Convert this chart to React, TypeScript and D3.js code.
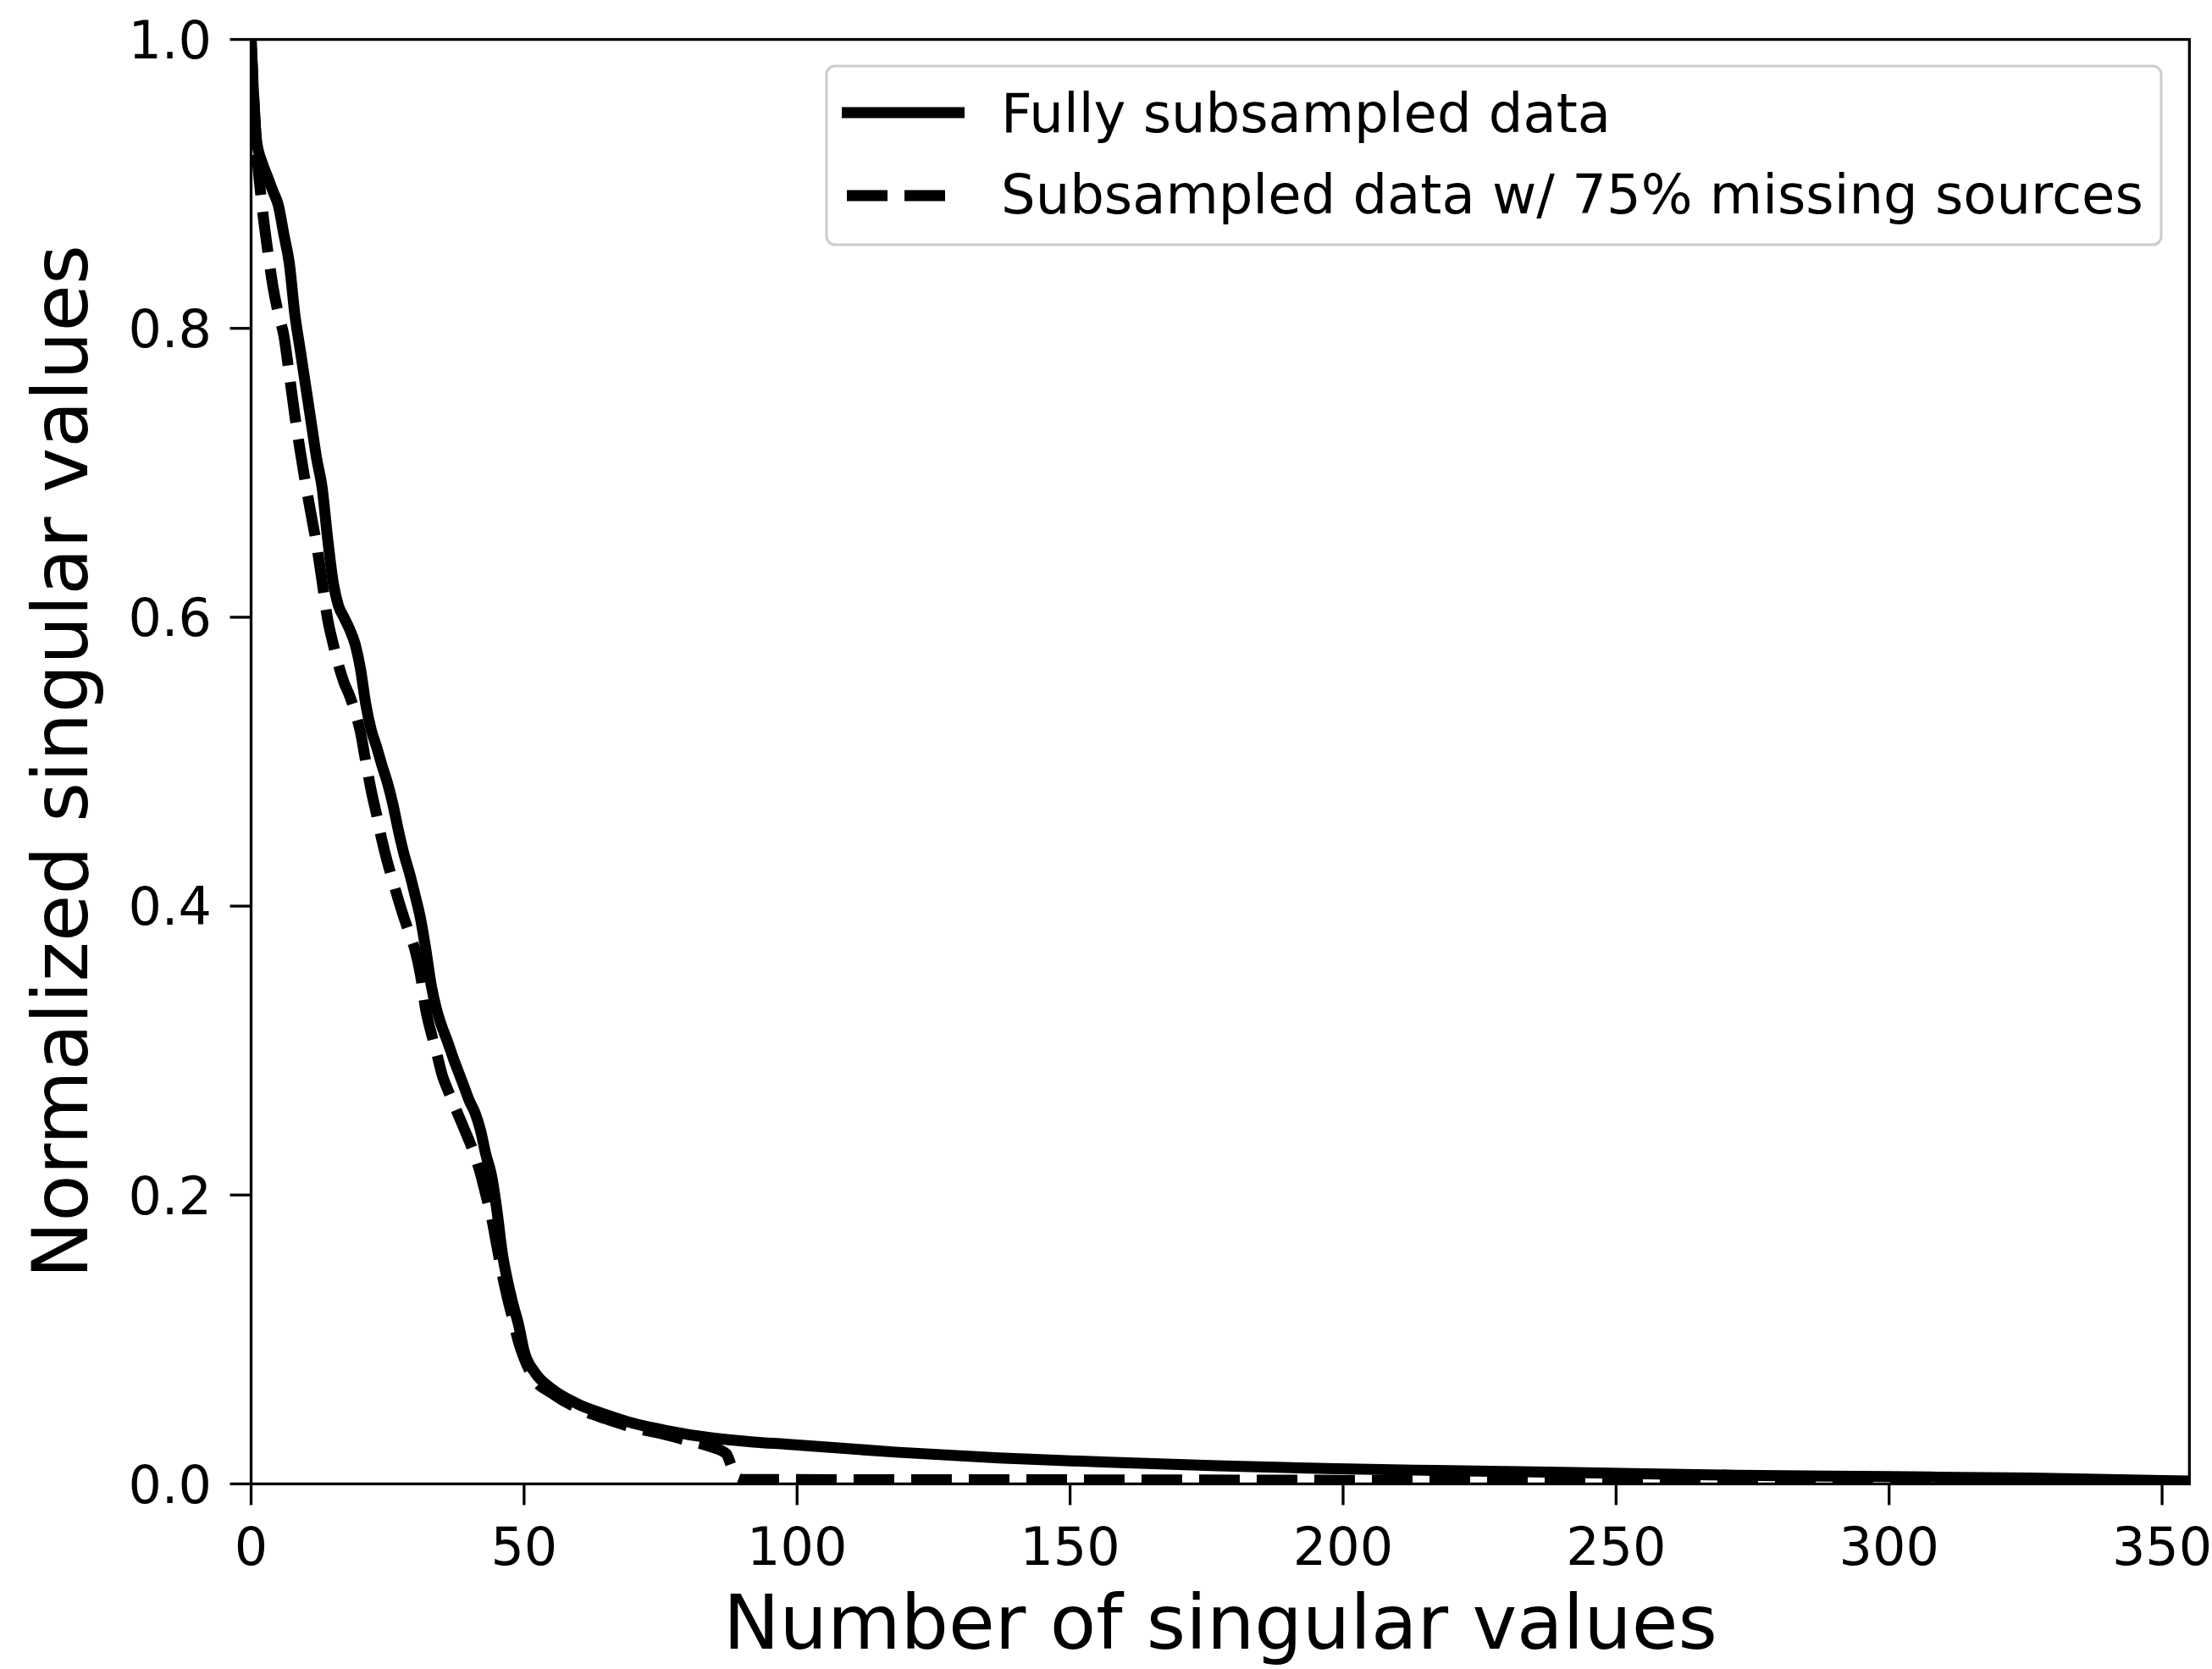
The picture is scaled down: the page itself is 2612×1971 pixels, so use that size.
import React from "react";
import * as d3 from "d3";

// ---- Data ----
const fullX = [0,1,2,3,4,5,6,7,8,9,10,11,12,13,14,15,16,17,18,19,20,21,22,23,24,25,26,27,28,29,30,31,32,33,34,35,36,37,38,39,40,41,42,43,44,45,46,47,48,49,50,52,55,60,65,70,76,84,92,98,118,137,157,177,197,217,240,272,300,326,355];
const fullY = [1.0,0.93,0.915,0.905,0.895,0.885,0.865,0.845,0.81,0.785,0.76,0.735,0.71,0.69,0.655,0.625,0.608,0.6,0.592,0.582,0.565,0.54,0.522,0.51,0.497,0.485,0.47,0.452,0.436,0.423,0.408,0.392,0.37,0.345,0.328,0.316,0.306,0.295,0.285,0.275,0.265,0.257,0.245,0.228,0.214,0.19,0.16,0.14,0.124,0.11,0.092,0.077,0.066,0.055,0.048,0.042,0.037,0.032,0.029,0.0275,0.022,0.018,0.015,0.0125,0.0106,0.0093,0.008,0.006,0.005,0.004,0.002];

const missX = [0,1,2,3,4,5,6,7,8,9,10,11,12,13,14,15,16,17,18,19,20,21,22,23,24,25,26,27,28,29,30,31,32,33,34,35,36,37,38,39,40,41,42,43,44,45,46,47,48,49,50,52,55,60,65,70,76,80,84,87,88,89,90,150,200,250,300,355];
const missY = [1.0,0.925,0.885,0.855,0.829,0.81,0.795,0.768,0.74,0.715,0.692,0.671,0.65,0.625,0.599,0.582,0.567,0.555,0.546,0.535,0.521,0.5,0.48,0.463,0.445,0.43,0.417,0.404,0.392,0.381,0.37,0.353,0.328,0.312,0.298,0.283,0.273,0.264,0.255,0.246,0.237,0.227,0.215,0.2,0.185,0.165,0.145,0.128,0.113,0.098,0.087,0.072,0.063,0.052,0.045,0.039,0.034,0.03,0.026,0.021,0.012,0.004,0.003,0.0028,0.0025,0.002,0.0015,0.001];

const xTicks = [0, 50, 100, 150, 200, 250, 300, 350];
const yTicks = [0, 0.2, 0.4, 0.6, 0.8, 1.0];
const seriesNames = ["Fully subsampled data", "Subsampled data w/ 75% missing sources"];
const xLabel = "Number of singular values";
const yLabel = "Normalized singular values";

const W = 2612, H = 1971;
const L = 296.5, R = 2585.3, T = 46.6, B = 1752.4;
const FONT = "'DejaVu Sans', sans-serif";

export default function App() {
  const x = d3.scaleLinear().domain([0, 355]).range([L, R]);
  const y = d3.scaleLinear().domain([0, 1]).range([B, T]);
  const line = d3.line<[number, number]>()
    .x(d => x(d[0])).y(d => y(d[1])).curve(d3.curveMonotoneX);
  const fullPts: [number, number][] = fullX.map((v, i) => [v, fullY[i]]);
  const missPts: [number, number][] = missX.map((v, i) => [v, missY[i]]);
  const dash = "48,20";
  const lw = 13;
  const tickLen = 25;
  const spineW = 3.3;

  return (
    <svg width={W} height={H} style={{ position: "absolute", left: 0, top: 0, background: "#fff" }}
      fontFamily={FONT}>
      <rect x={0} y={0} width={W} height={H} fill="#fff" />
      <defs>
        <clipPath id="plotclip">
          <rect x={L} y={T} width={R - L} height={B - T} />
        </clipPath>
      </defs>
      <g clipPath="url(#plotclip)">
        <path d={line(fullPts) || ""} fill="none" stroke="#000" strokeWidth={lw} strokeLinejoin="round" />
        <path d={line(missPts) || ""} fill="none" stroke="#000" strokeWidth={lw} strokeDasharray={dash} strokeLinejoin="round" />
      </g>
      {/* spines */}
      <rect x={L} y={T} width={R - L} height={B - T} fill="none" stroke="#000" strokeWidth={spineW} />
      {/* x ticks */}
      {xTicks.map(t => (
        <g key={"xt" + t}>
          <line x1={x(t)} x2={x(t)} y1={B} y2={B + tickLen} stroke="#000" strokeWidth={spineW} />
          <text x={x(t)} y={1848} textAnchor="middle" fontSize={62} fill="#000">{String(t)}</text>
        </g>
      ))}
      {/* y ticks */}
      {yTicks.map(t => (
        <g key={"yt" + t}>
          <line x1={L - tickLen} x2={L} y1={y(t)} y2={y(t)} stroke="#000" strokeWidth={spineW} />
          <text x={250} y={y(t)} dy="0.36em" textAnchor="end" fontSize={62} fill="#000">{t.toFixed(1)}</text>
        </g>
      ))}
      <text x={(L + R) / 2} y={1947} textAnchor="middle" fontSize={89} fill="#000">{xLabel}</text>
      <text transform={`translate(103, ${(T + B) / 2}) rotate(-90)`} textAnchor="middle" fontSize={90} fill="#000">{yLabel}</text>
      {/* legend */}
      <g>
        <rect x={976} y={78} width={1576} height={211} rx={10} fill="#fff" fillOpacity={0.8} stroke="#cccccc" strokeWidth={3} />
        <line x1={994} x2={1139} y1={133} y2={133} stroke="#000" strokeWidth={lw} />
        <text x={1182} y={156} fontSize={64} fill="#000">{seriesNames[0]}</text>
        <line x1={1000} x2={1118} y1={231} y2={231} stroke="#000" strokeWidth={lw} strokeDasharray={dash} />
        <text x={1182} y={252} fontSize={64} fill="#000">{seriesNames[1]}</text>
      </g>
    </svg>
  );
}
